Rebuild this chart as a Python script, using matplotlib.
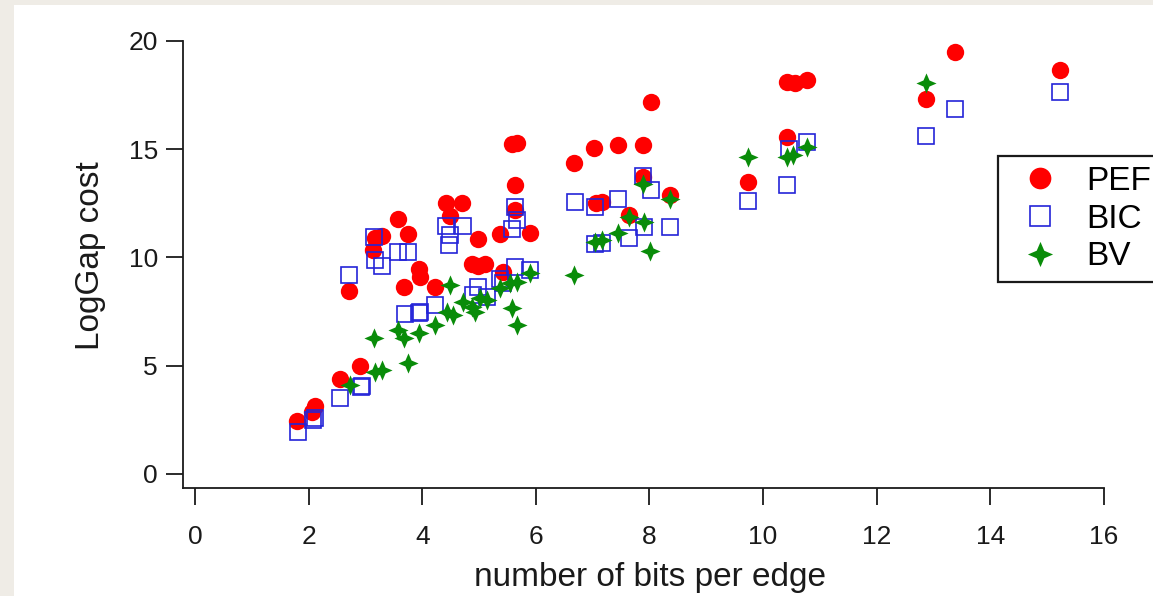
import numpy as np
import matplotlib.pyplot as plt
from matplotlib.patches import Rectangle
from matplotlib.path import Path

plt.rcParams['font.family'] = ['Liberation Sans', 'DejaVu Sans']

# --- PEF (red circles)
pef_x = [1.80, 2.06, 2.11, 2.55, 2.90, 2.71, 3.13, 3.17, 3.29, 3.57, 3.75, 3.94, 3.96,
         3.68, 4.23, 4.42, 4.70, 4.49, 4.98, 5.37, 5.90, 4.88, 4.99, 5.11, 5.42,
         5.58, 5.67, 5.63, 5.63, 6.67, 7.02, 7.45, 7.89, 7.89, 8.36, 7.06, 7.17,
         7.64, 8.03, 9.74, 10.42, 10.42, 10.56, 10.77, 12.87, 13.38, 15.23]
pef_y = [2.45, 2.86, 3.14, 4.39, 4.99, 8.45, 10.35, 10.9, 11.0, 11.8, 11.1, 9.47, 9.1,
         8.64, 8.64, 12.5, 12.5, 11.9, 10.85, 11.1, 11.13, 9.7, 9.6, 9.7, 9.33,
         15.25, 15.3, 13.35, 12.2, 14.35, 15.06, 15.2, 15.2, 13.7, 12.9, 12.5, 12.56,
         11.96, 17.2, 13.5, 15.57, 18.1, 18.06, 18.2, 17.32, 19.5, 18.66]

# --- BIC (blue open squares)
bic_x = [1.81, 2.08, 2.11, 2.55, 2.92, 2.94, 2.71, 3.15, 3.17, 3.29, 3.57, 3.75,
         3.70, 3.94, 3.97, 4.23, 4.42, 4.72, 4.49, 4.47, 5.63, 5.67, 5.58, 5.63,
         5.90, 5.37, 4.98, 4.89, 5.14, 5.42, 6.69, 7.04, 7.45, 7.89, 8.03, 8.36,
         7.90, 7.64, 7.04, 7.17, 9.74, 10.42, 10.46, 10.77, 12.87, 13.38, 15.23]
bic_y = [1.94, 2.49, 2.59, 3.50, 4.0, 4.05, 9.19, 10.95, 9.88, 9.6, 10.25, 10.25,
         7.39, 7.44, 7.5, 7.8, 11.45, 11.45, 11.04, 10.58, 12.33, 11.73, 11.3, 9.56,
         9.42, 9.0, 8.64, 8.27, 8.18, 8.8, 12.56, 12.33, 12.7, 13.76, 13.1, 11.4,
         11.4, 10.9, 10.6, 10.67, 12.6, 13.35, 15.0, 15.33, 15.6, 16.86, 17.64]

# --- BV (green four-point stars)
bv_x = [2.73, 3.15, 3.17, 3.29, 3.57, 3.68, 3.75, 3.94, 4.23, 4.49, 4.44, 4.54,
        4.72, 4.88, 5.02, 5.14, 4.93, 5.37, 5.55, 5.67, 5.90, 5.58, 5.67, 6.67,
        7.04, 7.17, 7.45, 7.64, 7.90, 7.89, 8.36, 8.01, 9.74, 10.42, 10.53, 10.77,
        12.87]
bv_y = [4.10, 6.28, 4.71, 4.80, 6.65, 6.28, 5.13, 6.50, 6.88, 8.73, 7.48, 7.34,
        7.94, 7.70, 8.13, 8.04, 7.48, 8.60, 8.80, 8.87, 9.28, 7.67, 6.88, 9.19,
        10.7, 10.8, 11.13, 11.87, 11.64, 13.4, 12.7, 10.3, 14.64, 14.64, 14.73, 15.1,
        18.06]

# four-point star marker
r = 0.3
star = Path([(0, 1), (r, r), (1, 0), (r, -r), (0, -1), (-r, -r), (-1, 0), (-r, r), (0, 1)],
            [Path.MOVETO] + [Path.LINETO] * 7 + [Path.CLOSEPOLY])

fig = plt.figure(figsize=(11.53, 5.96), dpi=100, facecolor='#efece6')
fig.patches.append(Rectangle((14 / 1153, 0), 1, 1 - 5 / 596, transform=fig.transFigure,
                             facecolor='white', edgecolor='none', zorder=-10))

ax = fig.add_axes([183 / 1153, 108 / 596, 921 / 1153, 447 / 596])
ax.set_facecolor('none')

ax.plot(pef_x, pef_y, 'o', color='#ff0000', markersize=12.5, markeredgewidth=0,
        label='PEF', zorder=2)
ax.plot(bic_x, bic_y, 's', color='#2424d8', markersize=11, markerfacecolor='none',
        markeredgewidth=1.2, label='BIC', zorder=3)
ax.plot(bv_x, bv_y, linestyle='none', marker=star, color='#098c09', markersize=14.5,
        markeredgewidth=0, label='BV', zorder=4)

ax.set_xlim(-0.21, 16)
ax.set_ylim(-0.65, 20)
ax.set_xticks(np.arange(0, 17, 2))
ax.set_yticks(np.arange(0, 21, 5))

for s in ['top', 'right']:
    ax.spines[s].set_visible(False)
for s in ['left', 'bottom']:
    ax.spines[s].set_linewidth(1.3)
    ax.spines[s].set_color('#1a1a1a')

ax.tick_params(direction='out', length=12, width=1.3, color='#1a1a1a',
               labelsize=19, labelcolor='#1a1a1a')
ax.tick_params(axis='x', pad=15)
ax.tick_params(axis='y', pad=6)

ax.set_xlabel('number of bits per edge', fontsize=24, color='#1a1a1a')
ax.set_ylabel('LogGap cost', fontsize=24, color='#1a1a1a')
ax.xaxis.set_label_coords(0.507, -0.165)
ax.yaxis.set_label_coords(-0.084, 0.519)

leg = fig.legend(loc='upper left', bbox_to_anchor=(998 / 1153, 1 - 156 / 596),
                 fontsize=24, frameon=True, fancybox=False, shadow=False,
                 borderaxespad=0, borderpad=0.3, labelspacing=0.2,
                 handlelength=1.9, handletextpad=0.45, markerscale=1.25)
leg.get_frame().set_edgecolor('#1a1a1a')
leg.get_frame().set_linewidth(1.6)
leg.get_frame().set_alpha(None)
leg.get_frame().set_facecolor('white')

fig.savefig('out.png', dpi=100, facecolor=fig.get_facecolor())
